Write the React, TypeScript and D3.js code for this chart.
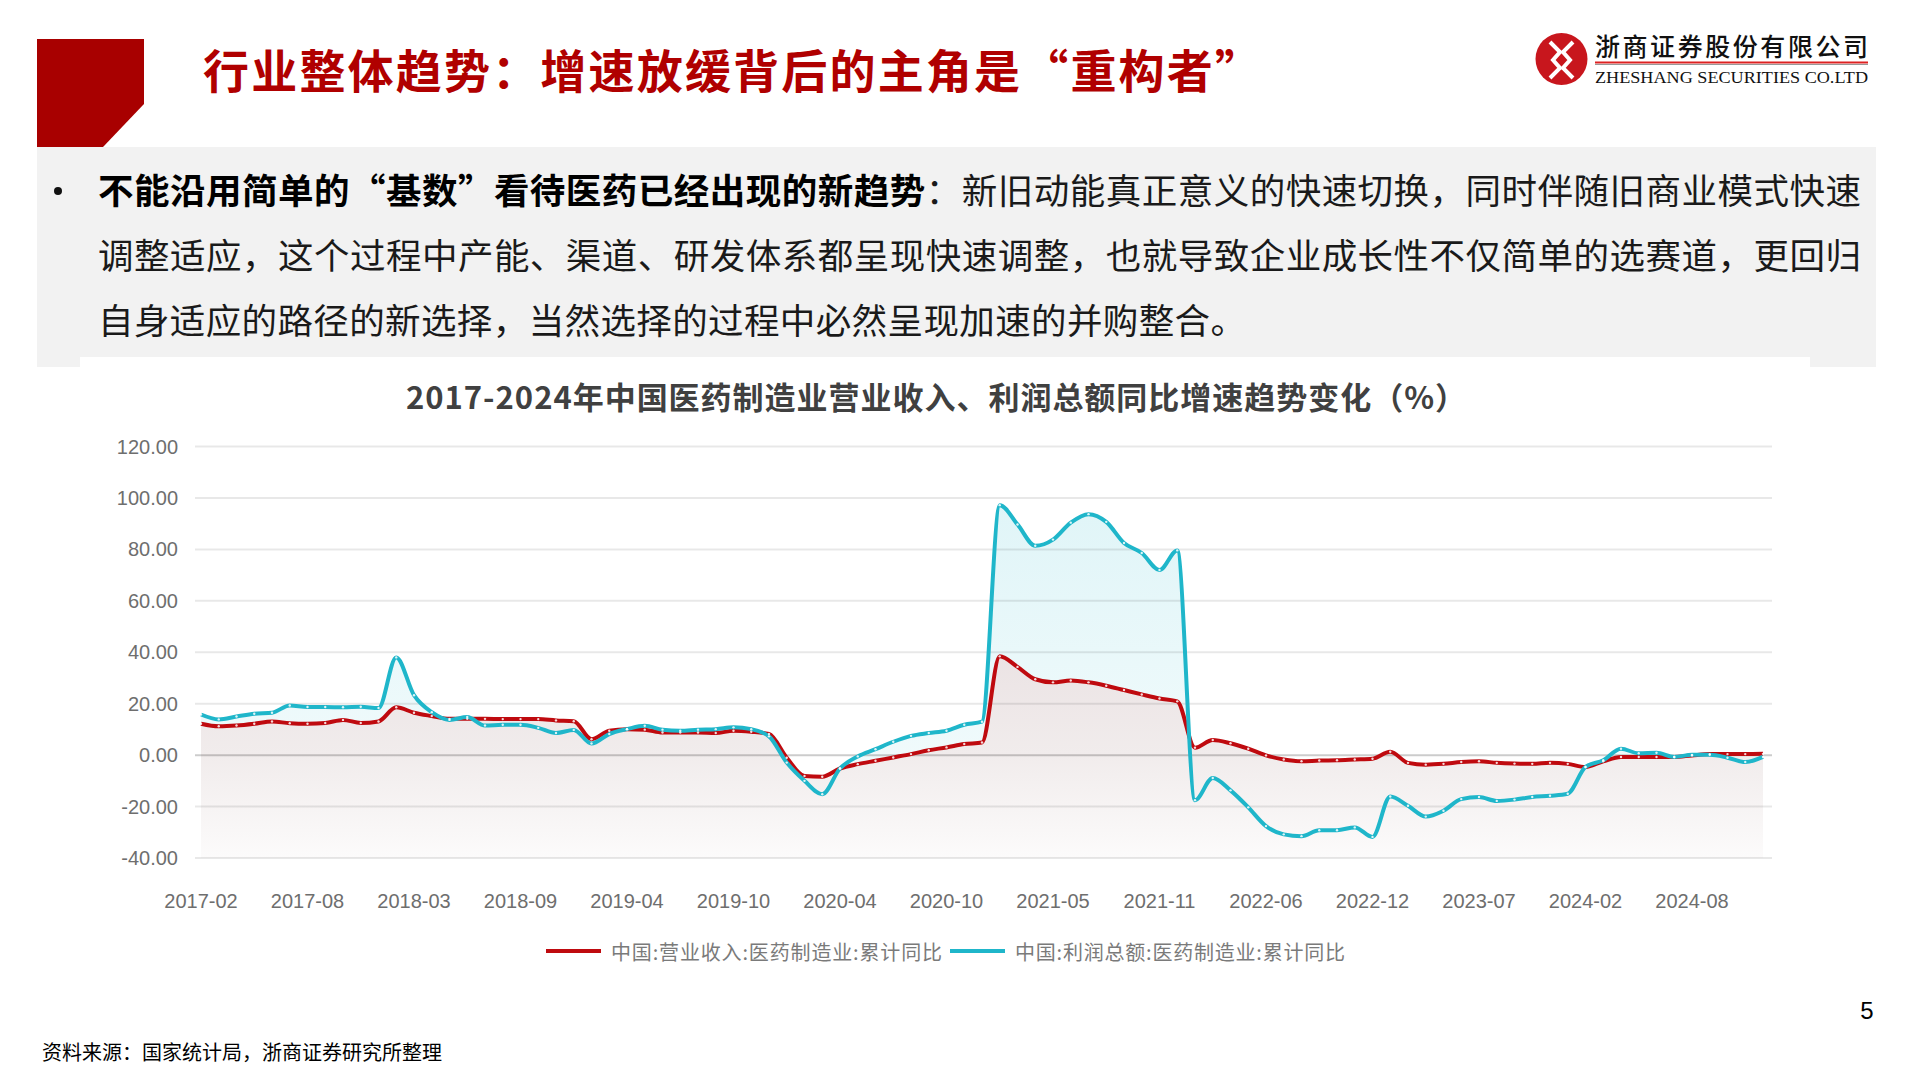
import React from "react";
import * as d3 from "d3";

// months with data (Jan is merged into Feb except 2020)
const months = [
  "2017-02","2017-03","2017-04","2017-05","2017-06","2017-07","2017-08","2017-09","2017-10","2017-11","2017-12",
  "2018-02","2018-03","2018-04","2018-05","2018-06","2018-07","2018-08","2018-09","2018-10","2018-11","2018-12",
  "2019-02","2019-03","2019-04","2019-05","2019-06","2019-07","2019-08","2019-09","2019-10","2019-11","2019-12",
  "2020-01","2020-02","2020-03","2020-04","2020-05","2020-06","2020-07","2020-08","2020-09","2020-10","2020-11","2020-12",
  "2021-02","2021-03","2021-04","2021-05","2021-06","2021-07","2021-08","2021-09","2021-10","2021-11","2021-12",
  "2022-02","2022-03","2022-04","2022-05","2022-06","2022-07","2022-08","2022-09","2022-10","2022-11","2022-12",
  "2023-02","2023-03","2023-04","2023-05","2023-06","2023-07","2023-08","2023-09","2023-10","2023-11","2023-12",
  "2024-02","2024-03","2024-04","2024-05","2024-06","2024-07","2024-08","2024-09","2024-10","2024-11","2024-12",
];

const revenue = [
  12.2, 11.2, 11.5, 12.2, 13.1, 12.4, 12.2, 12.5, 13.7, 12.5, 13.1,
  18.6, 16.5, 15.2, 14.1, 14.1, 14.1, 14.0, 14.0, 14.0, 13.5, 13.2,
  6.2, 9.5, 10.1, 9.9, 8.8, 8.8, 8.8, 8.6, 9.5, 9.1, 8.2,
  -1.0, -8.1, -8.4, -5.2, -3.5, -2.2, -0.9, 0.4, 1.9, 3.0, 4.3, 4.9,
  38.4, 34.3, 29.5, 28.3, 29.0, 28.3, 27.0, 25.3, 23.6, 22.0, 20.9,
  2.9, 5.9, 4.6, 2.5, -0.1, -1.7, -2.4, -2.1, -2.0, -1.7, -1.4,
  1.3, -3.0, -3.7, -3.4, -2.7, -2.4, -3.0, -3.3, -3.4, -3.0, -3.4,
  -4.6, -2.4, -0.7, -0.7, -0.7, -0.7, -0.1, 0.4, 0.4, 0.4, 0.5,
];

const profit = [
  15.8, 13.9, 15.0, 16.1, 16.5, 19.3, 18.7, 18.7, 18.6, 18.8, 18.3,
  38.0, 23.3, 16.7, 13.7, 14.8, 11.5, 11.8, 11.8, 10.6, 8.6, 9.8,
  4.5, 8.2, 10.1, 11.4, 9.9, 9.5, 9.9, 10.1, 10.8, 10.1, 7.3,
  -2.9, -10.0, -15.2, -5.2, -0.5, 2.3, 5.2, 7.5, 8.6, 9.5, 11.8, 13.0,
  97.2, 89.7, 81.4, 83.8, 90.4, 93.7, 90.7, 82.5, 78.6, 72.0, 79.6,
  -17.5, -8.9, -13.7, -20.3, -27.6, -30.8, -31.5, -29.2, -29.2, -28.1, -31.8,
  -16.1, -19.7, -23.9, -21.6, -17.1, -16.3, -17.8, -17.3, -16.3, -15.8, -15.0,
  -4.6, -2.0, 2.5, 0.7, 0.9, -0.7, 0.1, 0.1, -1.0, -2.7, -0.7,
];

const yTicks = [-40, -20, 0, 20, 40, 60, 80, 100, 120];
const seriesNames = ["中国:营业收入:医药制造业:累计同比", "中国:利润总额:医药制造业:累计同比"];
const seriesColors = ["#bf0a0f", "#1fb6ca"];

const titleText = "行业整体趋势：增速放缓背后的主角是“重构者”";
const chartTitle = "2017-2024年中国医药制造业营业收入、利润总额同比增速趋势变化（%）";
const bodyBold = "不能沿用简单的“基数”看待医药已经出现的新趋势";
const bodyLines = [
  "：新旧动能真正意义的快速切换，同时伴随旧商业模式快速",
  "调整适应，这个过程中产能、渠道、研发体系都呈现快速调整，也就导致企业成长性不仅简单的选赛道，更回归",
  "自身适应的路径的新选择，当然选择的过程中必然呈现加速的并购整合。",
];
const sourceText = "资料来源：国家统计局，浙商证券研究所整理";

const CJK = "'Noto Sans CJK SC', 'Noto Sans', sans-serif";
const NUM = "'Liberation Sans', Arial, 'Noto Sans CJK SC', sans-serif";

export default function App() {
  const x = d3.scalePoint<string>().domain(months).range([201, 1763]);
  const y = d3.scaleLinear().domain([-40, 120]).range([858, 446.5]);

  const line = (vals: number[]) =>
    d3.line<number>()
      .x((_, i) => x(months[i]) as number)
      .y((d) => y(d))
      .curve(d3.curveMonotoneX)(vals) as string;

  const area = (vals: number[]) =>
    d3.area<number>()
      .x((_, i) => x(months[i]) as number)
      .y0(y(-40))
      .y1((d) => y(d))
      .curve(d3.curveMonotoneX)(vals) as string;

  const tickIdx = months.map((_, i) => i).filter((i) => i % 6 === 0);

  return (
    <div style={{ position: "absolute", left: 0, top: 0 }}>
      <svg width={1920} height={1080} style={{ display: "block", background: "#fff" }}>
        <defs>
          <linearGradient id="cyanFill" gradientUnits="userSpaceOnUse" x1="0" x2="0" y1={y(100)} y2={y(-40)}>
            <stop offset="0" stopColor="#1fb6ca" stopOpacity={0.14} />
            <stop offset="1" stopColor="#1fb6ca" stopOpacity={0.04} />
          </linearGradient>
          <linearGradient id="redFill" gradientUnits="userSpaceOnUse" x1="0" x2="0" y1={y(40)} y2={y(-40)}>
            <stop offset="0" stopColor="#ebe3e4" />
            <stop offset="0.5" stopColor="#f1ecec" />
            <stop offset="1" stopColor="#fcfbfb" />
          </linearGradient>
        </defs>

        {/* header */}
        <polygon points="37,39 144,39 144,104 103,147 37,147" fill="#a80000" />
        <text x={203} y={88} fontFamily={CJK} fontWeight={700} fontSize={46} fill="#b00000" textLength={1058}>
          {titleText}
        </text>

        {/* logo */}
        <circle cx={1561.5} cy={59} r={26} fill="#c8161d" />
        <path d="M1550,42 L1560,52 L1553,60 L1560,68 L1550,78 M1573,42 L1563,52 L1570,60 L1563,68 L1573,78"
          fill="none" stroke="#fff" strokeWidth={4} strokeLinejoin="miter" />
        <text x={1595} y={56} fontFamily={CJK} fontWeight={500} fontSize={25} fill="#111" textLength={273}>
          浙商证券股份有限公司
        </text>
        <rect x={1595} y={61.5} width={273} height={2} fill="#d22" />
        <rect x={1595} y={64} width={273} height={1} fill="#999" />
        <text x={1595} y={83} fontFamily="'Liberation Serif', serif" fontSize={16} fill="#111" textLength={273} lengthAdjust="spacingAndGlyphs">
          ZHESHANG SECURITIES CO.LTD
        </text>

        {/* text box */}
        <rect x={37} y={147} width={1839} height={220} fill="#f2f2f2" />
        <circle cx={58} cy={191} r={4} fill="#111" />
        <text x={98} y={204} fontFamily={CJK} fontSize={35.5} fill="#1a1a1a" textLength={1763}>
          <tspan fontWeight={700} fill="#000">{bodyBold}</tspan>
          <tspan>{bodyLines[0]}</tspan>
        </text>
        <text x={98} y={269} fontFamily={CJK} fontSize={35.5} fill="#1a1a1a" textLength={1763}>
          {bodyLines[1]}
        </text>
        <text x={98} y={334} fontFamily={CJK} fontSize={35.5} fill="#1a1a1a" textLength={1148}>
          {bodyLines[2]}
        </text>

        {/* chart panel */}
        <rect x={80} y={357} width={1730} height={640} fill="#fff" />
        <text x={936} y={409} textAnchor="middle" fontFamily={CJK} fontWeight={700} fontSize={31} fill="#404040" textLength={1060}>
          {chartTitle}
        </text>

        {/* areas */}
        <path d={area(profit)} fill="url(#cyanFill)" />
        <path d={area(revenue)} fill="url(#redFill)" />

        {/* grid */}
        {yTicks.map((t) => (
          <g key={t}>
            <line x1={195} x2={1772} y1={y(t)} y2={y(t)}
              stroke={t === 0 ? "rgba(0,0,0,0.2)" : "rgba(0,0,0,0.09)"} strokeWidth={2} />
            <text x={178} y={y(t)} textAnchor="end" dominantBaseline="central" fontFamily={NUM} fontSize={20} fill="#6e6e6e">
              {t.toFixed(2)}
            </text>
          </g>
        ))}

        {/* lines */}
        <path d={line(revenue)} fill="none" stroke={seriesColors[0]} strokeWidth={4} strokeLinejoin="round" />
        <path d={line(profit)} fill="none" stroke={seriesColors[1]} strokeWidth={4} strokeLinejoin="round" />
        {[revenue, profit].map((vals, s) => (
          <g key={s}>
            {vals.map((v, i) => (
              <circle key={i} cx={x(months[i]) as number} cy={y(v)} r={1.2} fill="#fff" opacity={0.85} />
            ))}
          </g>
        ))}

        {/* x axis labels */}
        {tickIdx.map((i) => (
          <text key={i} x={x(months[i]) as number} y={901} textAnchor="middle" dominantBaseline="central"
            fontFamily={NUM} fontSize={20} fill="#6e6e6e">
            {months[i]}
          </text>
        ))}

        {/* legend */}
        <rect x={546} y={949} width={55} height={4} fill={seriesColors[0]} />
        <text x={611} y={951} dominantBaseline="central" fontFamily={CJK} fontSize={20} fill="#7a7a7a" textLength={331}>
          {seriesNames[0]}
        </text>
        <rect x={950} y={949} width={55} height={4} fill={seriesColors[1]} />
        <text x={1015} y={951} dominantBaseline="central" fontFamily={CJK} fontSize={20} fill="#7a7a7a" textLength={330}>
          {seriesNames[1]}
        </text>

        {/* footer */}
        <text x={42} y={1051} dominantBaseline="central" fontFamily={CJK} fontSize={20} fill="#000">
          {sourceText}
        </text>
        <text x={1867} y={1010} textAnchor="middle" dominantBaseline="central" fontFamily={NUM} fontSize={24} fill="#000">
          5
        </text>
      </svg>
    </div>
  );
}
